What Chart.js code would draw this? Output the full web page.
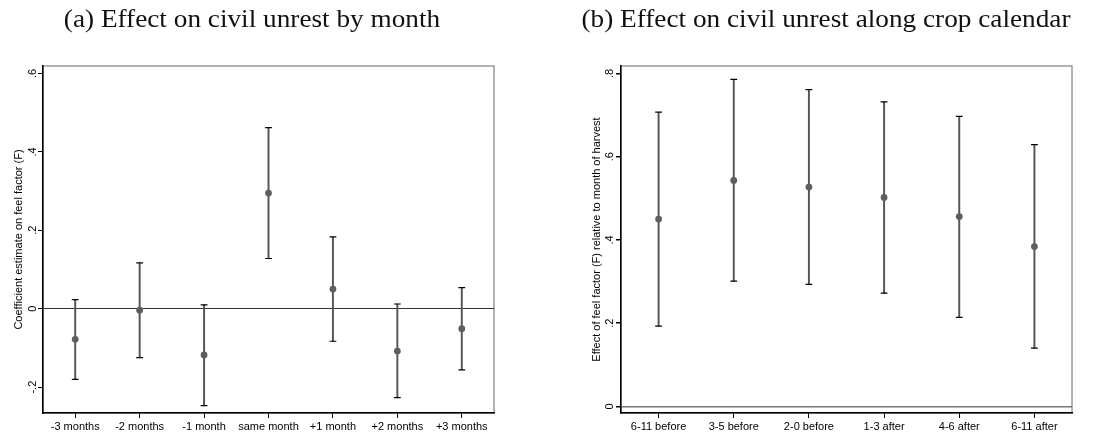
<!DOCTYPE html>
<html>
<head>
<meta charset="utf-8">
<script src="https://cdn.jsdelivr.net/npm/chart.js@4.4.0/dist/chart.umd.min.js"></script>
<style>
  body { margin: 0; background: #fff; }
  #wrap { position: relative; width: 1120px; height: 434px; }
  .panel { position: absolute; top: 0; width: 560px; height: 434px; }
  .title {
    position: absolute; top: 5px;
    font-family: "Liberation Serif", serif; font-size: 25px; color: #111;
    white-space: nowrap; transform: translateX(-50%) scaleX(1.09);
  }
</style>
</head>
<body>
<div id="wrap">
  <div class="panel" style="left:0"><canvas id="chartMonth" width="560" height="434"></canvas></div>
  <div class="panel" style="left:560px"><canvas id="chartCrop" width="560" height="434"></canvas></div>
  <div class="title" style="left:252px">(a) Effect on civil unrest by month</div>
  <div class="title" style="left:826px">(b) Effect on civil unrest along crop calendar</div>
</div>
<script>
// (a) coefficients by month relative to the event
const monthLabels = ['-3 months', '-2 months', '-1 month', 'same month', '+1 month', '+2 months', '+3 months'];
const monthCoef = [-0.078, -0.004, -0.118, 0.295, 0.050, -0.108, -0.051];
const monthLow  = [-0.180, -0.125, -0.247, 0.128, -0.083, -0.227, -0.156];
const monthHigh = [0.023, 0.117, 0.010, 0.462, 0.183, 0.012, 0.054];
const monthTicks = [-0.2, 0, 0.2, 0.4, 0.6];

// (b) coefficients along the crop calendar
const cropLabels = ['6-11 before', '3-5 before', '2-0 before', '1-3 after', '4-6 after', '6-11 after'];
const cropCoef = [0.450, 0.543, 0.527, 0.502, 0.456, 0.384];
const cropLow  = [0.193, 0.301, 0.293, 0.272, 0.214, 0.140];
const cropHigh = [0.707, 0.786, 0.761, 0.732, 0.697, 0.629];
const cropTicks = [0, 0.2, 0.4, 0.6, 0.8];

// Stata-style labels: .2 instead of 0.2
function stataNum(v) {
  if (v === 0) return '0';
  return String(v).replace('0.', '.');
}

// box round the plot region, axes draw their own darker lines over it
const frame = {
  id: 'frame',
  beforeDraw(chart) {
    const { ctx, chartArea: a } = chart;
    ctx.save();
    ctx.strokeStyle = '#666';
    ctx.lineWidth = 1;
    ctx.strokeRect(a.left, a.top, a.right - a.left, a.bottom - a.top);
    ctx.restore();
  }
};

const tickFont = { family: '"Liberation Sans", Arial, sans-serif', size: 11 };

function coefChart(id, labels, coef, low, high, ticks, o) {
  return new Chart(document.getElementById(id), {
    type: 'bar',
    data: {
      labels: labels,
      datasets: [
        {
          label: 'dots', type: 'line', data: coef, showLine: false, order: 0,
          pointRadius: 3.4, pointBackgroundColor: '#5e5e5e', pointBorderWidth: 0
        },
        {
          label: 'upper', type: 'line', data: high, showLine: false, order: 1,
          pointStyle: 'line', pointRadius: 3.4, pointBorderColor: '#000', pointBorderWidth: 1.2
        },
        {
          label: 'lower', type: 'line', data: low, showLine: false, order: 1,
          pointStyle: 'line', pointRadius: 3.4, pointBorderColor: '#000', pointBorderWidth: 1.2
        },
        {
          label: 'ci', data: low.map((l, i) => [l, high[i]]), order: 2,
          backgroundColor: '#555', borderWidth: 0, barThickness: 1.3
        }
      ]
    },
    options: {
      responsive: false,
      animation: false,
      events: [],
      layout: { padding: { top: 66, right: o.padRight, bottom: 0, left: 0 } },
      plugins: { legend: { display: false }, tooltip: { enabled: false } },
      scales: {
        x: {
          offset: true,
          grid: { display: true, drawOnChartArea: false, offset: false, tickLength: 5, tickColor: '#000', color: '#000' },
          border: { color: '#000', width: 1.5 },
          ticks: { font: tickFont, color: '#000', maxRotation: 0, autoSkip: false, padding: 2 },
          afterFit: s => { s.height = 21; }
        },
        y: {
          min: o.yMin, max: o.yMax,
          afterBuildTicks: s => { s.ticks = ticks.map(v => ({ value: v })); },
          afterFit: s => { s.width = o.yWidth; },
          grid: {
            color: c => (c.tick && c.tick.value === 0) ? o.zeroColor : 'rgba(0,0,0,0)',
            lineWidth: o.zeroWidth, tickColor: '#000', tickLength: 5
          },
          border: { color: '#000', width: 1.5 },
          ticks: {
            font: tickFont, color: '#000', minRotation: 90, maxRotation: 90,
            crossAlign: 'center', padding: o.tickPad, callback: v => stataNum(v)
          },
          title: {
            display: true, text: o.yTitle, color: '#000', font: tickFont,
            padding: { top: o.titlePad, bottom: 0 }
          }
        }
      }
    },
    plugins: [frame]
  });
}

coefChart('chartMonth', monthLabels, monthCoef, monthLow, monthHigh, monthTicks, {
  yMin: -0.266, yMax: 0.619, yWidth: 43, padRight: 66, tickPad: -1, titlePad: 12,
  zeroColor: '#333', zeroWidth: 1,
  yTitle: 'Coefficient estimate on feel factor (F)'
});

coefChart('chartCrop', cropLabels, cropCoef, cropLow, cropHigh, cropTicks, {
  yMin: -0.016, yMax: 0.818, yWidth: 61, padRight: 48, tickPad: 1, titlePad: 30,
  zeroColor: '#777', zeroWidth: 1.5,
  yTitle: 'Effect of feel factor (F) relative to month of harvest'
});
</script>
</body>
</html>
